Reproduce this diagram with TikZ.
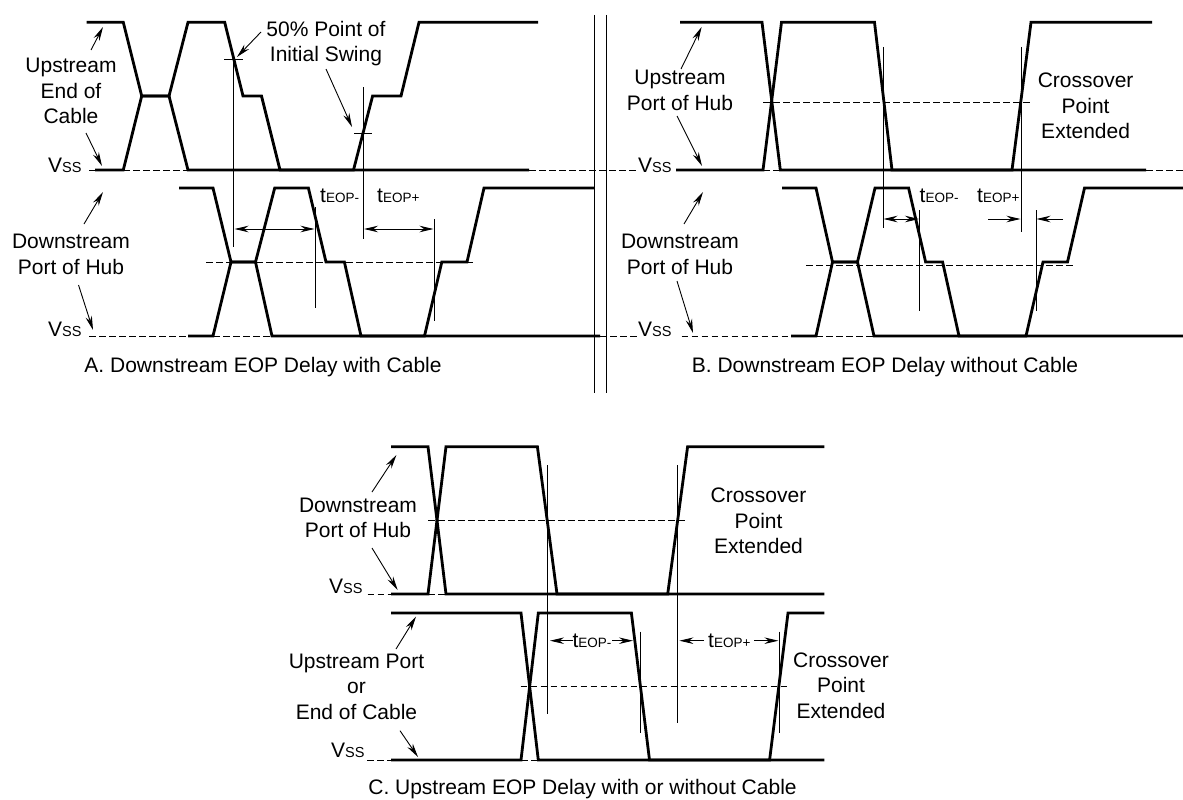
\documentclass[tikz,border=0pt]{standalone}
\usepackage{fontspec}
\setmainfont{Liberation Sans}
\usetikzlibrary{arrows.meta}
\tikzset{
	wave/.style={line width=2.8pt, line join=miter},
	guide/.style={line width=0.9pt},
	dashline/.style={line width=1pt, dash pattern=on 6.5pt off 3.5pt},
	leader/.style={line width=0.9pt, -{Stealth[length=14pt, width=6.5pt]}},
	span/.style={line width=0.9pt, {Stealth[length=14pt, width=6.5pt]}-{Stealth[length=14pt, width=6.5pt]}},
	lbl/.style={align=center, inner sep=0pt, font=\fontsize{21}{25.5}\selectfont},
}
\newcommand{\vsslabel}{V{\fontsize{14.5}{14.5}\selectfont SS}}
\newcommand{\teop}[1]{t{\fontsize{13.5}{13.5}\selectfont EOP#1}}

\begin{document}
\begin{tikzpicture}[x=1pt, y=-1pt]
		%%%%% START %%%%%
		\useasboundingbox (0, 0) rectangle (1183, 800);
		
		% A
		\draw[dashline] (89, 170) -- (95, 170);
		\draw[dashline] (123, 170) -- (188, 170);
		\draw[dashline] (529, 170) -- (636, 170);
		\draw[dashline] (89, 336) -- (188, 336);
		\draw[dashline] (213, 336) -- (272, 336);
		\draw[dashline] (206, 262) -- (475, 262);
		\draw[wave] (86.5, 22.3) -- (123.3, 22.3) -- (141.7, 96) -- (169, 96) -- (188, 170) -- (529, 170);
		\draw[wave] (95, 170) -- (123.3, 170) -- (141.7, 96) -- (169, 96) -- (188, 22.3) -- (224.7, 22.3) -- (243, 96) -- (261.5, 96) -- (280, 170) -- (353.5, 170) -- (372.6, 96) -- (401, 96) -- (419, 22.3) -- (538, 22.3);
		\draw[wave] (179, 188) -- (213, 188) -- (231, 262) -- (255.5, 262) -- (272, 336) -- (600, 336);
		\draw[wave] (188, 336) -- (213, 336) -- (231, 262) -- (255.5, 262) -- (274.7, 188) -- (308.4, 188) -- (326, 262) -- (344.4, 262) -- (361, 336) -- (424.5, 336) -- (441.8, 262) -- (467, 262) -- (484, 188) -- (594, 188);
		\draw[guide] (224, 59) -- (243, 59);
		\draw[guide] (354, 133) -- (372, 133);
		\draw[guide] (233.7, 59) -- (233.7, 246.7);
		\draw[guide] (363, 87) -- (363, 239);
		\draw[guide] (315, 207) -- (315, 308);
		\draw[guide] (434, 219) -- (434, 321);
		\draw[span] (234.5, 229) -- (314.5, 229);
		\draw[span] (364, 229) -- (433.5, 229);
		\draw[leader] (91, 50) -- (103, 27);
		\draw[leader] (86, 133) -- (102, 166);
		\draw[leader] (261, 32) -- (237, 57);
		\draw[leader] (326, 69) -- (352, 127);
		\draw[leader] (84, 224) -- (103, 192);
		\draw[leader] (78.5, 285) -- (93, 330);
		\node[lbl] (upA) at (71, 91) {Upstream\\End of\\Cable};
		\node[lbl] (swingA) at (326, 43.5) {50\% Point of\\Initial Swing};
		\node[lbl] (downA) at (71, 254.5) {Downstream\\Port of Hub};
		\node[lbl, anchor=base west] (vssA) at (48, 172) {\vsslabel};
		\node[lbl, anchor=base west] (vssAb) at (48, 336) {\vsslabel};
		\node[lbl, anchor=base west] (tminA) at (320, 202) {\teop{-}};
		\node[lbl, anchor=base west] (tplusA) at (377, 202) {\teop{+}};
		\node[lbl] (capA) at (263, 366.7) {A. Downstream EOP Delay with Cable};
		
		% break
		\draw[guide] (594.5, 15) -- (594.5, 393);
		\draw[guide] (606, 15) -- (606, 393);
		
		% B
		\draw[dashline] (763, 170) -- (781, 170);
		\draw[dashline] (1146, 170) -- (1183, 170);
		\draw[dashline] (590, 336) -- (637, 336);
		\draw[dashline] (681.6, 336) -- (791, 336);
		\draw[dashline] (816, 336) -- (874, 336);
		\draw[dashline] (763, 102) -- (1031, 102);
		\draw[dashline] (806, 265) -- (1074, 265);
		\draw[wave] (680, 22.3) -- (762, 22.3) -- (780.3, 170) -- (1146, 170);
		\draw[wave] (676, 170) -- (763, 170) -- (781.5, 22.3) -- (874.5, 22.3) -- (892, 170) -- (1012, 170) -- (1031, 22.3) -- (1152, 22.3);
		\draw[wave] (782, 188) -- (816, 188) -- (832.5, 262) -- (857.5, 262) -- (874, 336) -- (1183, 336);
		\draw[wave] (791, 336) -- (816, 336) -- (832.5, 262) -- (857.5, 262) -- (875, 188) -- (908.6, 188) -- (925.6, 262) -- (942.6, 262) -- (959, 336) -- (1026, 336) -- (1043, 262) -- (1067.5, 262) -- (1084.5, 188) -- (1183, 188);
		\draw[guide] (883, 47) -- (883, 228);
		\draw[guide] (1021, 47) -- (1021, 232);
		\draw[guide] (919.5, 210) -- (919.5, 310.7);
		\draw[guide] (1036, 210) -- (1036, 310.7);
		\draw[span] (883.5, 219) -- (919, 219);
		\draw[leader] (988, 219) -- (1020.5, 219);
		\draw[leader] (1063, 219) -- (1036.5, 219);
		\draw[leader] (681, 69) -- (701.6, 27);
		\draw[leader] (677, 116) -- (702, 166);
		\draw[leader] (684, 224) -- (703, 192);
		\draw[leader] (677, 281) -- (693, 333);
		\node[lbl] (upB) at (680, 90.5) {Upstream\\Port of Hub};
		\node[lbl] (crossB) at (1085.6, 106) {Crossover\\Point\\Extended};
		\node[lbl] (downB) at (680, 254.5) {Downstream\\Port of Hub};
		\node[lbl, anchor=base west] (vssB) at (638, 172) {\vsslabel};
		\node[lbl, anchor=base west] (vssBb) at (638, 336) {\vsslabel};
		\node[lbl, anchor=base west] (tminB) at (919.5, 202) {\teop{-}};
		\node[lbl, anchor=base west] (tplusB) at (977, 202) {\teop{+}};
		\node[lbl] (capB) at (885, 366.7) {B. Downstream EOP Delay without Cable};
		
		% C
		\draw[dashline] (367.7, 594) -- (391, 594);
		\draw[dashline] (428, 594) -- (446, 594);
		\draw[dashline] (428, 520.7) -- (686.5, 520.7);
		\draw[dashline] (367, 760) -- (391, 760);
		\draw[dashline] (521, 760) -- (538, 760);
		\draw[dashline] (520.6, 686.7) -- (788, 686.7);
		\draw[wave] (391, 446.7) -- (428, 446.7) -- (446, 594) -- (824.4, 594);
		\draw[wave] (391, 594) -- (428, 594) -- (446, 446.7) -- (537.4, 446.7) -- (557, 594) -- (667.7, 594) -- (687.6, 446.7) -- (824.4, 446.7);
		\draw[wave] (391, 613) -- (521, 613) -- (538.3, 760) -- (824.3, 760);
		\draw[wave] (391, 760) -- (521, 760) -- (538.3, 613) -- (631.4, 613) -- (649.5, 760) -- (769.6, 760) -- (788, 613) -- (824.3, 613);
		\draw[guide] (547.8, 465) -- (547.8, 714);
		\draw[guide] (677.3, 465) -- (677.3, 723);
		\draw[guide] (640.7, 631.7) -- (640.7, 732.7);
		\draw[guide] (779, 631.7) -- (779, 732.7);
		\draw[leader] (396, 649) -- (416, 616.7);
		\draw[leader] (372, 492) -- (396.4, 455);
		\draw[leader] (372, 548) -- (397.6, 590);
		\draw[leader] (400, 730.7) -- (418, 757);
		\draw[leader] (573, 640.7) -- (550, 640.7);
		\draw[leader] (612, 640.7) -- (633, 640.7);
		\draw[leader] (704, 640.7) -- (679.4, 640.7);
		\draw[leader] (754.4, 640.7) -- (778.4, 640.7);
		\node[lbl] (downC) at (358, 518) {Downstream\\Port of Hub};
		\node[lbl] (crossCt) at (758.5, 521) {Crossover\\Point\\Extended};
		\node[lbl] (upC) at (356.5, 686.5) {Upstream Port\\or\\End of Cable};
		\node[lbl] (crossCb) at (841, 685.5) {Crossover\\Point\\Extended};
		\node[lbl, anchor=base west] (vssC) at (329, 593) {\vsslabel};
		\node[lbl, anchor=base west] (vssCb) at (331, 757) {\vsslabel};
		\node[lbl, anchor=base west] (tminC) at (572.4, 647.5) {\teop{-}};
		\node[lbl, anchor=base west] (tplusC) at (708, 647.5) {\teop{+}};
		\node[lbl] (capC) at (582.5, 789) {C. Upstream EOP Delay with or without Cable};
		
		%%%%% END %%%%%
	\end{tikzpicture}
\end{document}
